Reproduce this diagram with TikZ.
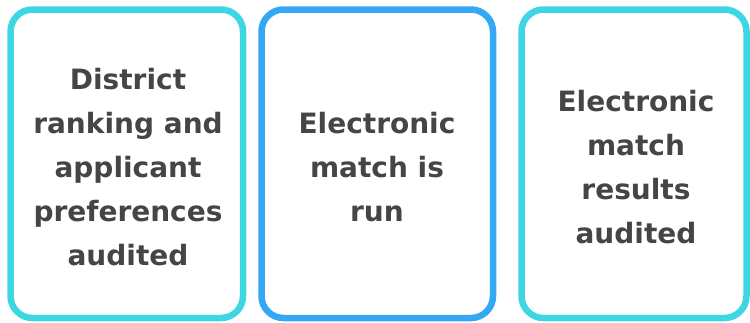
\documentclass[tikz,border=0pt]{standalone}
\usepackage{fontspec}
\setmainfont{DejaVu Sans}
\definecolor{cyanb}{HTML}{3DD6E3}
\definecolor{blueb}{HTML}{35A8F5}
\definecolor{txt}{HTML}{454545}
\begin{document}
\begin{tikzpicture}[x=1pt,y=1pt,
  card/.style={line width=6.5pt, rounded corners=22pt, fill=white},
  lbl/.style={align=center, text=txt, font=\fontsize{28}{44}\selectfont\bfseries, inner sep=0pt}]
\useasboundingbox (0,0) rectangle (750,-322);
\draw[card, draw=cyanb] (10.5,-9.5) rectangle (243,-318);
\draw[card, draw=blueb] (261.5,-9.5) rectangle (493,-318);
\draw[card, draw=cyanb] (521.5,-9.5) rectangle (746.5,-318);
\node[lbl] (a) at (128,-167.5) {District\\ranking and\\applicant\\preferences\\audited};
\node[lbl] (b) at (377,-167.5) {Electronic\\match is\\run};
\node[lbl] (c) at (636,-167.5) {Electronic\\match\\results\\audited};
\end{tikzpicture}
\end{document}
